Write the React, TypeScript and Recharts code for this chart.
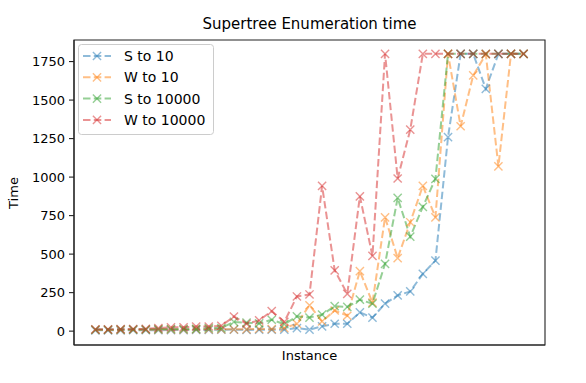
import React from 'react';
import { LineChart, Line, XAxis, YAxis, Legend, ReferenceArea } from 'recharts';

const instances = [0,1,2,3,4,5,6,7,8,9,10,11,12,13,14,15,16,17,18,19,20,21,22,23,24,25,26,27,28,29,30,31,32,33,34];
const sTo10 = [5,5,5,6,6,6,7,7,8,8,9,10,8,9,9,10,20,10,31,48,48,122,88,178,232,258,372,458,1260,1800,1800,1573,1800,1800,1800];
const wTo10 = [8,8,8,9,9,10,10,10,11,12,12,12,12,14,13,20,48,168,63,134,100,390,185,739,474,707,943,739,1800,1330,1660,1797,1070,1800,1800];
const sTo10000 = [10,10,11,11,12,13,14,14,15,20,20,60,55,50,74,45,96,88,107,162,157,204,178,437,865,613,807,989,1800,1800,1800,1800,1800,1800,1800];
const wTo10000 = [12,12,13,14,15,20,25,25,30,30,35,95,48,70,130,60,225,238,943,395,242,875,488,1800,991,1308,1800,1800,1800,1800,1800,1800,1800,1800,1800];
const yTicks = [0, 250, 500, 750, 1000, 1250, 1500, 1750];

const seriesNames = ['S to 10', 'W to 10', 'S to 10000', 'W to 10000'];
const seriesKeys = ['s10', 'w10', 's10000', 'w10000'];
const seriesColors = ['#1f77b4', '#ff7f0e', '#2ca02c', '#d62728'];

const xDomain: [number, number] = [-1.7, 35.7];
const yDomain: [number, number] = [-90, 1890];

const data = instances.map((i, k) => ({
  i,
  s10: sTo10[k],
  w10: wTo10[k],
  s10000: sTo10000[k],
  w10000: wTo10000[k],
}));

const FONT = 'DejaVu Sans, sans-serif';
const DASH = '7.5 3.3';

const makeDot = (color: string) => (props: any) => {
  const { cx, cy, index } = props;
  if (cx == null || cy == null) return <g key={index} />;
  const r = 4.1;
  return (
    <path
      key={index}
      d={`M${cx - r},${cy - r}L${cx + r},${cy + r}M${cx - r},${cy + r}L${cx + r},${cy - r}`}
      stroke={color}
      strokeOpacity={0.5}
      strokeWidth={1.4}
      fill="none"
    />
  );
};

const LegendBox = () => (
  <svg width={136} height={91} style={{ display: 'block' }}>
    <rect x={0.5} y={0.5} width={135} height={90} rx={3} ry={3} fill="#fff" fillOpacity={0.8} stroke="#cccccc" strokeWidth={1} />
    {seriesNames.map((n, k) => {
      const y = 12 + k * 21.3;
      const c = seriesColors[k];
      const r = 4.1;
      return (
        <g key={n}>
          <line x1={5} y1={y} x2={33} y2={y} stroke={c} strokeOpacity={0.5} strokeWidth={2} strokeDasharray={DASH} />
          <path d={`M${19 - r},${y - r}L${19 + r},${y + r}M${19 - r},${y + r}L${19 + r},${y - r}`} stroke={c} strokeOpacity={0.5} strokeWidth={1.4} fill="none" />
          <text x={46} y={y} dy="0.36em" fontFamily={FONT} fontSize={14} fill="#000">{n}</text>
        </g>
      );
    })}
  </svg>
);

export default function App() {
  return (
    <div style={{ position: 'absolute', left: 0, top: 0, width: 586, height: 383, background: '#fff', fontFamily: FONT }}>
      <LineChart width={586} height={383} data={data} margin={{ top: 40, right: 41, bottom: 0, left: 0 }}>
        <XAxis
          dataKey="i"
          type="number"
          domain={xDomain}
          allowDataOverflow
          tick={false}
          tickLine={false}
          height={38}
          axisLine={{ stroke: '#222', strokeWidth: 1.1 }}
        />
        <YAxis
          type="number"
          domain={yDomain}
          allowDataOverflow
          ticks={yTicks}
          interval={0}
          width={74}
          tickSize={5}
          tickMargin={4}
          tick={{ fill: '#000', fontSize: 13, fontFamily: FONT }}
          tickLine={{ stroke: '#222', strokeWidth: 1.1 }}
          axisLine={{ stroke: '#222', strokeWidth: 1.1 }}
        />
        <ReferenceArea
          x1={xDomain[0]}
          x2={xDomain[1]}
          y1={yDomain[0]}
          y2={yDomain[1]}
          fill="none"
          fillOpacity={0}
          stroke="#222"
          strokeWidth={1.1}
          strokeOpacity={1}
          ifOverflow="visible"
        />
        {seriesKeys.map((k, idx) => (
          <Line
            key={k}
            dataKey={k}
            name={seriesNames[idx]}
            type="linear"
            stroke={seriesColors[idx]}
            strokeOpacity={0.5}
            strokeWidth={2}
            strokeDasharray={DASH}
            dot={makeDot(seriesColors[idx])}
            activeDot={false}
            isAnimationActive={false}
          />
        ))}
        <Legend
          layout="horizontal"
          verticalAlign="middle"
          align="center"
          wrapperStyle={{ left: 78, top: 44, width: 136, height: 91 }}
          content={() => <LegendBox />}
        />
      </LineChart>
      <div style={{ position: 'absolute', left: 74, width: 471, top: 15, textAlign: 'center', fontSize: 15, color: '#000', lineHeight: '18px' }}>
        Supertree Enumeration time
      </div>
      <div style={{ position: 'absolute', left: 74, width: 471, top: 348, textAlign: 'center', fontSize: 13, color: '#000', lineHeight: '16px' }}>
        Instance
      </div>
      <div style={{ position: 'absolute', left: 14, top: 192.5, width: 0, height: 0 }}>
        <div style={{ position: 'absolute', left: -30, top: -8, width: 60, textAlign: 'center', fontSize: 13, color: '#000', lineHeight: '16px', transform: 'rotate(-90deg)' }}>
          Time
        </div>
      </div>
    </div>
  );
}
